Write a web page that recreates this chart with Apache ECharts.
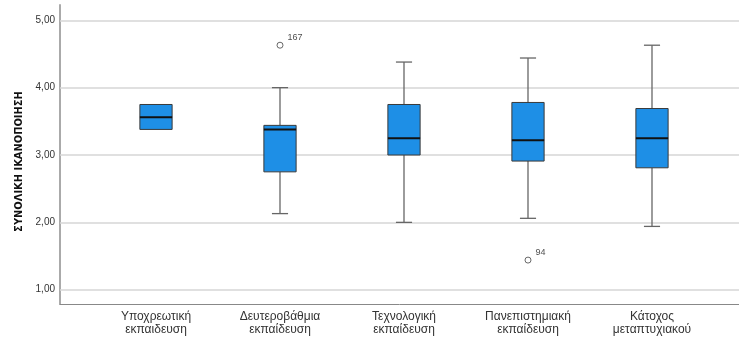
<!DOCTYPE html>
<html>
<head>
<meta charset="utf-8">
<script src="https://cdn.jsdelivr.net/npm/echarts@6/dist/echarts.min.js"></script>
<style>
html,body{margin:0;padding:0;background:#fff;}
#chart{width:739px;height:338px;}
</style>
</head>
<body>
<div id="chart"></div>
<script>
const categories = ['Υποχρεωτική\nεκπαιδευση', 'Δευτεροβάθμια\nεκπαίδευση', 'Τεχνολογική\nεκπαίδευση', 'Πανεπιστημιακή\nεκπαίδευση', 'Κάτοχος\nμεταπτυχιακού'];
const lows    = [3.38, 2.13, 2.00, 2.06, 1.94];
const q1s     = [3.38, 2.75, 3.00, 2.91, 2.81];
const medians = [3.56, 3.38, 3.25, 3.22, 3.25];
const q3s     = [3.75, 3.44, 3.75, 3.78, 3.69];
const highs   = [3.75, 4.00, 4.38, 4.44, 4.63];
const outlierCategories = [1, 3];
const outlierValues = [4.63, 1.44];
const outlierLabels = ['167', '94'];
const yTicks = [1, 2, 3, 4, 5];
const yTitle = 'ΣΥΝΟΛΙΚΗ ΙΚΑΝΟΠΟΙΗΣΗ';

const Y_MIN = 0.788, Y_MAX = 5.227;
const chart = echarts.init(document.getElementById('chart'), null, {renderer: 'canvas'});

const boxData = categories.map((c, i) => [i, lows[i], q1s[i], medians[i], q3s[i], highs[i]]);
const outlierData = outlierCategories.map((c, i) => [c, outlierValues[i]]);

function renderBox(params, api) {
  const i = api.value(0);
  const pLow = api.coord([i, api.value(1)]);
  const pQ1 = api.coord([i, api.value(2)]);
  const pMed = api.coord([i, api.value(3)]);
  const pQ3 = api.coord([i, api.value(4)]);
  const pHigh = api.coord([i, api.value(5)]);
  const band = api.size([1, 0])[0];
  const bw = band * 0.26;
  const cw = bw / 2;
  const cx = pMed[0];
  const wStyle = {stroke: '#666', lineWidth: 1.3};
  const children = [];
  if (api.value(5) > api.value(4)) {
    children.push({type: 'line', shape: {x1: cx, y1: pHigh[1], x2: cx, y2: pQ3[1]}, style: wStyle});
    children.push({type: 'line', shape: {x1: cx - cw / 2, y1: pHigh[1], x2: cx + cw / 2, y2: pHigh[1]}, style: wStyle});
  }
  if (api.value(1) < api.value(2)) {
    children.push({type: 'line', shape: {x1: cx, y1: pQ1[1], x2: cx, y2: pLow[1]}, style: wStyle});
    children.push({type: 'line', shape: {x1: cx - cw / 2, y1: pLow[1], x2: cx + cw / 2, y2: pLow[1]}, style: wStyle});
  }
  children.push({type: 'rect', shape: {x: cx - bw / 2, y: pQ3[1], width: bw, height: pQ1[1] - pQ3[1]},
    style: {fill: '#1E8FE6', stroke: '#3a3a3a', lineWidth: 1}});
  children.push({type: 'line', shape: {x1: cx - bw / 2, y1: pMed[1], x2: cx + bw / 2, y2: pMed[1]},
    style: {stroke: '#111', lineWidth: 2}});
  return {type: 'group', children};
}

const option = {
  animation: false,
  backgroundColor: '#fff',
  textStyle: {fontFamily: 'Liberation Sans, Arial, sans-serif'},
  grid: [
    {left: 60, right: 0, top: 5, bottom: 34},
    {left: 94, right: 25, top: 5, bottom: 34}
  ],
  xAxis: [
    {gridIndex: 0, type: 'value', min: 0, max: 1,
      axisLine: {show: true, lineStyle: {color: '#888', width: 1}},
      axisTick: {show: false}, axisLabel: {show: false}, splitLine: {show: false}},
    {gridIndex: 1, type: 'category', data: categories,
      axisLine: {show: false}, axisTick: {show: false},
      axisLabel: {show: true, color: '#333', fontSize: 12, lineHeight: 13, margin: 6, interval: 0,
        fontFamily: 'Liberation Sans, Arial, sans-serif'},
      splitLine: {show: false}}
  ],
  yAxis: [
    {gridIndex: 0, type: 'value', min: Y_MIN, max: Y_MAX,
      name: yTitle, nameLocation: 'middle', nameRotate: 90, nameGap: 34,
      nameTextStyle: {fontFamily: 'Liberation Sans Narrow, DejaVu Sans Condensed, sans-serif', fontWeight: 'bold', fontSize: 11, color: '#111',
        padding: [0, 14, 0, 0]},
      axisLine: {show: true, lineStyle: {color: '#aaa', width: 2}},
      axisTick: {show: false, customValues: yTicks},
      axisLabel: {show: true, customValues: yTicks, color: '#333', fontSize: 10, margin: 5,
        formatter: v => v.toFixed(2).replace('.', ',')},
      splitLine: {show: false}},
    {gridIndex: 1, type: 'value', min: Y_MIN, max: Y_MAX, show: false,
      axisLine: {show: false}, axisTick: {show: false}, axisLabel: {show: false}, splitLine: {show: false}}
  ],
  series: [
    {type: 'line', xAxisIndex: 0, yAxisIndex: 0, data: [], silent: true,
      markLine: {silent: true, symbol: 'none', label: {show: false},
        lineStyle: {color: '#d6d6d6', width: 1.5, type: 'solid'},
        data: yTicks.map(v => ({yAxis: v}))}},
    {type: 'custom', xAxisIndex: 1, yAxisIndex: 1, data: boxData, renderItem: renderBox,
      encode: {x: 0, y: [1, 2, 3, 4, 5]}, z: 5},
    {type: 'scatter', xAxisIndex: 1, yAxisIndex: 1, data: outlierData, symbol: 'circle', symbolSize: 6,
      itemStyle: {color: '#fff', borderColor: '#444', borderWidth: 1}, z: 6,
      label: {show: true, position: 'right', offset: [-1, -8], fontSize: 9, color: '#222',
        formatter: p => outlierLabels[p.dataIndex]}}
  ]
};
chart.setOption(option);
</script>
</body>
</html>
